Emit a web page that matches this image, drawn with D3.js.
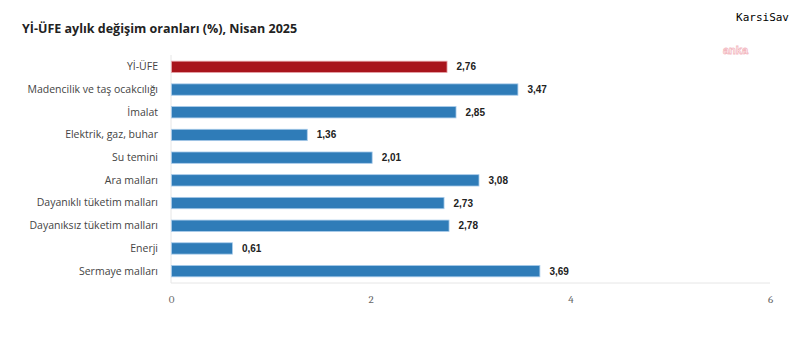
<!DOCTYPE html>
<html><head><meta charset="utf-8">
<script src="https://cdn.jsdelivr.net/npm/d3@7"></script>
<style>body{margin:0;background:#fff;}svg{display:block;}</style>
</head><body>
<svg id="chart" width="800" height="345"></svg>
<script>
const categories = ["Yİ-ÜFE","Madencilik ve taş ocakcılığı","İmalat","Elektrik, gaz, buhar","Su temini","Ara malları","Dayanıklı tüketim malları","Dayanıksız tüketim malları","Enerji","Sermaye malları"];
const values = [2.76,3.47,2.85,1.36,2.01,3.08,2.73,2.78,0.61,3.69];
const tickValues = [0,2,4,6];
const title = "Yİ-ÜFE aylık değişim oranları (%), Nisan 2025";

const svg = d3.select("#chart");
const x = d3.scaleLinear().domain([0,6]).range([171,770]);
const y = d3.scaleBand().domain(categories).range([55.5,282.5]).paddingInner(0.5).paddingOuter(0.25);

svg.append("text").attr("x",22).attr("y",33).text(title)
  .attr("font-family","Open Sans, Noto Sans, sans-serif").attr("font-weight","bold").attr("font-size",12.5).attr("fill","#222");

svg.append("text").attr("x",789).attr("y",21).attr("text-anchor","end").text("KarsiSav")
  .attr("font-family","DejaVu Sans Mono, monospace").attr("font-size",11).attr("fill","#000");
svg.append("text").attr("x",723).attr("y",54).text("anka")
  .attr("font-family","Arial, sans-serif").attr("font-weight","bold").attr("font-size",11)
  .attr("fill","none").attr("stroke","#f3b8bf").attr("stroke-width",0.8);

// axis lines
svg.append("line").attr("x1",x(0)).attr("x2",x(0)).attr("y1",55).attr("y2",283).attr("stroke","#e6e6e6").attr("stroke-width",1);
svg.append("line").attr("x1",x(0)).attr("x2",x(6)).attr("y1",283).attr("y2",283).attr("stroke","#e6e6e6").attr("stroke-width",1);

const xAxis = svg.append("g").attr("transform","translate(0,283)")
  .call(d3.axisBottom(x).tickValues(tickValues).tickSize(0).tickPadding(12).tickFormat(d3.format("d")));
xAxis.select(".domain").remove();
xAxis.selectAll("text").attr("font-family","Cambria, DejaVu Serif, serif").attr("font-size",11).attr("fill","#666");

const yAxis = svg.append("g").attr("transform","translate(158,0)")
  .call(d3.axisLeft(y).tickSize(0).tickPadding(0));
yAxis.select(".domain").remove();
yAxis.selectAll("text").attr("font-family","Open Sans, Noto Sans, sans-serif").attr("font-size",10.5).attr("fill","#444");

svg.selectAll("rect.bar").data(values).enter().append("rect")
  .attr("class","bar")
  .attr("x",x(0)+0.5)
  .attr("y",(d,i)=>y(categories[i]))
  .attr("width",d=>x(d)-x(0))
  .attr("height",y.bandwidth())
  .attr("fill",(d,i)=>i===0?"#a8141c":"#2f7cb8")
  .attr("stroke",(d,i)=>i===0?"#e8a5aa":"#a8cbea")
  .attr("stroke-width",0.8);

svg.selectAll("text.val").data(values).enter().append("text")
  .attr("class","val")
  .attr("x",d=>x(d)+10)
  .attr("y",(d,i)=>y(categories[i])+y.bandwidth()/2)
  .attr("dy","0.35em")
  .text(d=>d.toFixed(2).replace(".",","))
  .attr("font-family","Arial, Liberation Sans, sans-serif").attr("font-weight","bold").attr("font-size",10).attr("fill","#222");
</script>
</body></html>
